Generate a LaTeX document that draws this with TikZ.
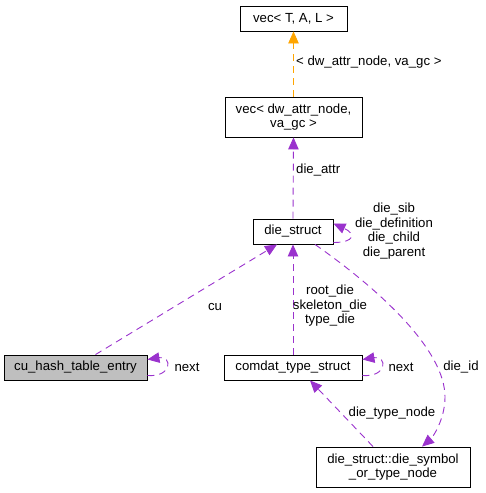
\documentclass[tikz,border=0pt]{standalone}
\usepackage{fontspec}
\setmainfont{Liberation Sans}
\usetikzlibrary{arrows.meta}
\definecolor{edgepurple}{HTML}{9A32CD}
\definecolor{edgeorange}{HTML}{FFA500}
\definecolor{nodegray}{HTML}{BFBFBF}
\begin{document}
\begin{tikzpicture}[x=1pt,y=-1pt,
  every node/.style={font=\fontsize{13.2}{14.5}\selectfont},
  classbox/.style={draw=black,line width=0.9pt,fill=white,inner sep=0pt,align=center,minimum height=25pt},
  rel/.style={draw=edgepurple,line width=0.9pt,dash pattern=on 7pt off 5pt,-{Triangle[length=12pt,width=10.5pt,fill=edgepurple]}},
  tmpl/.style={draw=edgeorange,line width=0.9pt,dash pattern=on 7pt off 5pt,-{Triangle[length=12pt,width=10.5pt,fill=edgeorange]}},
  lbl/.style={inner sep=0pt,align=center}]
\useasboundingbox (0,0) rectangle (485,493);
% nodes
\node[classbox,minimum width=107pt] (vtal) at (293.5,18.5) {vec< T, A, L >};
\node[classbox,minimum width=137pt,minimum height=40pt] (vdw) at (293.5,117) {vec< dw\_attr\_node,\\va\_gc >};
\node[classbox,minimum width=80pt] (die) at (293,231.5) {die\_struct};
\node[classbox,minimum width=143pt,fill=nodegray] (cu) at (75.5,367.5) {cu\_hash\_table\_entry};
\node[classbox,minimum width=138pt] (comdat) at (293,367.5) {comdat\_type\_struct};
\node[classbox,minimum width=154pt,minimum height=40pt] (sym) at (393,467) {die\_struct::die\_symbol\\\_or\_type\_node};
% edges
\draw[tmpl] (vdw.north) -- (vtal.south);
\node[lbl,anchor=west] (l1) at (296,62) {< dw\_attr\_node, va\_gc >};
\draw[rel] (die.north) -- (vdw.south);
\node[lbl,anchor=west] (l2) at (296,170) {die\_attr};
\draw[rel] ([yshift=-11pt]die.east) .. controls +(22,0) and +(22,10) .. ([yshift=8pt]die.east);
\node[lbl] (l3) at (394,231) {die\_sib\\die\_definition\\die\_child\\die\_parent};
\draw[rel] ([xshift=20pt]cu.north) -- ([xshift=-16pt]die.south);
\node[lbl] (l4) at (215,307) {cu};
\draw[rel] (comdat.north) -- (die.south);
\node[lbl] (l5) at (330,306) {root\_die\\skeleton\_die\\type\_die};
\draw[rel] ([xshift=22pt]die.south) .. controls (380,290) and (445,350) .. (445,397) .. controls (445,420) and (432,438) .. ([xshift=29pt]sym.north);
\node[lbl] (l6) at (461,367) {die\_id};
\draw[rel] ([xshift=-20pt]sym.north) -- ([xshift=17pt]comdat.south);
\node[lbl] (l7) at (392,413) {die\_type\_node};
\draw[rel] ([yshift=-8pt]cu.east) .. controls +(25,2) and +(25,-4) .. ([yshift=8pt]cu.east);
\node[lbl] (l8) at (187,367) {next};
\draw[rel] ([yshift=-8pt]comdat.east) .. controls +(25,2) and +(25,-4) .. ([yshift=8pt]comdat.east);
\node[lbl] (l9) at (401,367) {next};
\end{tikzpicture}
\end{document}
